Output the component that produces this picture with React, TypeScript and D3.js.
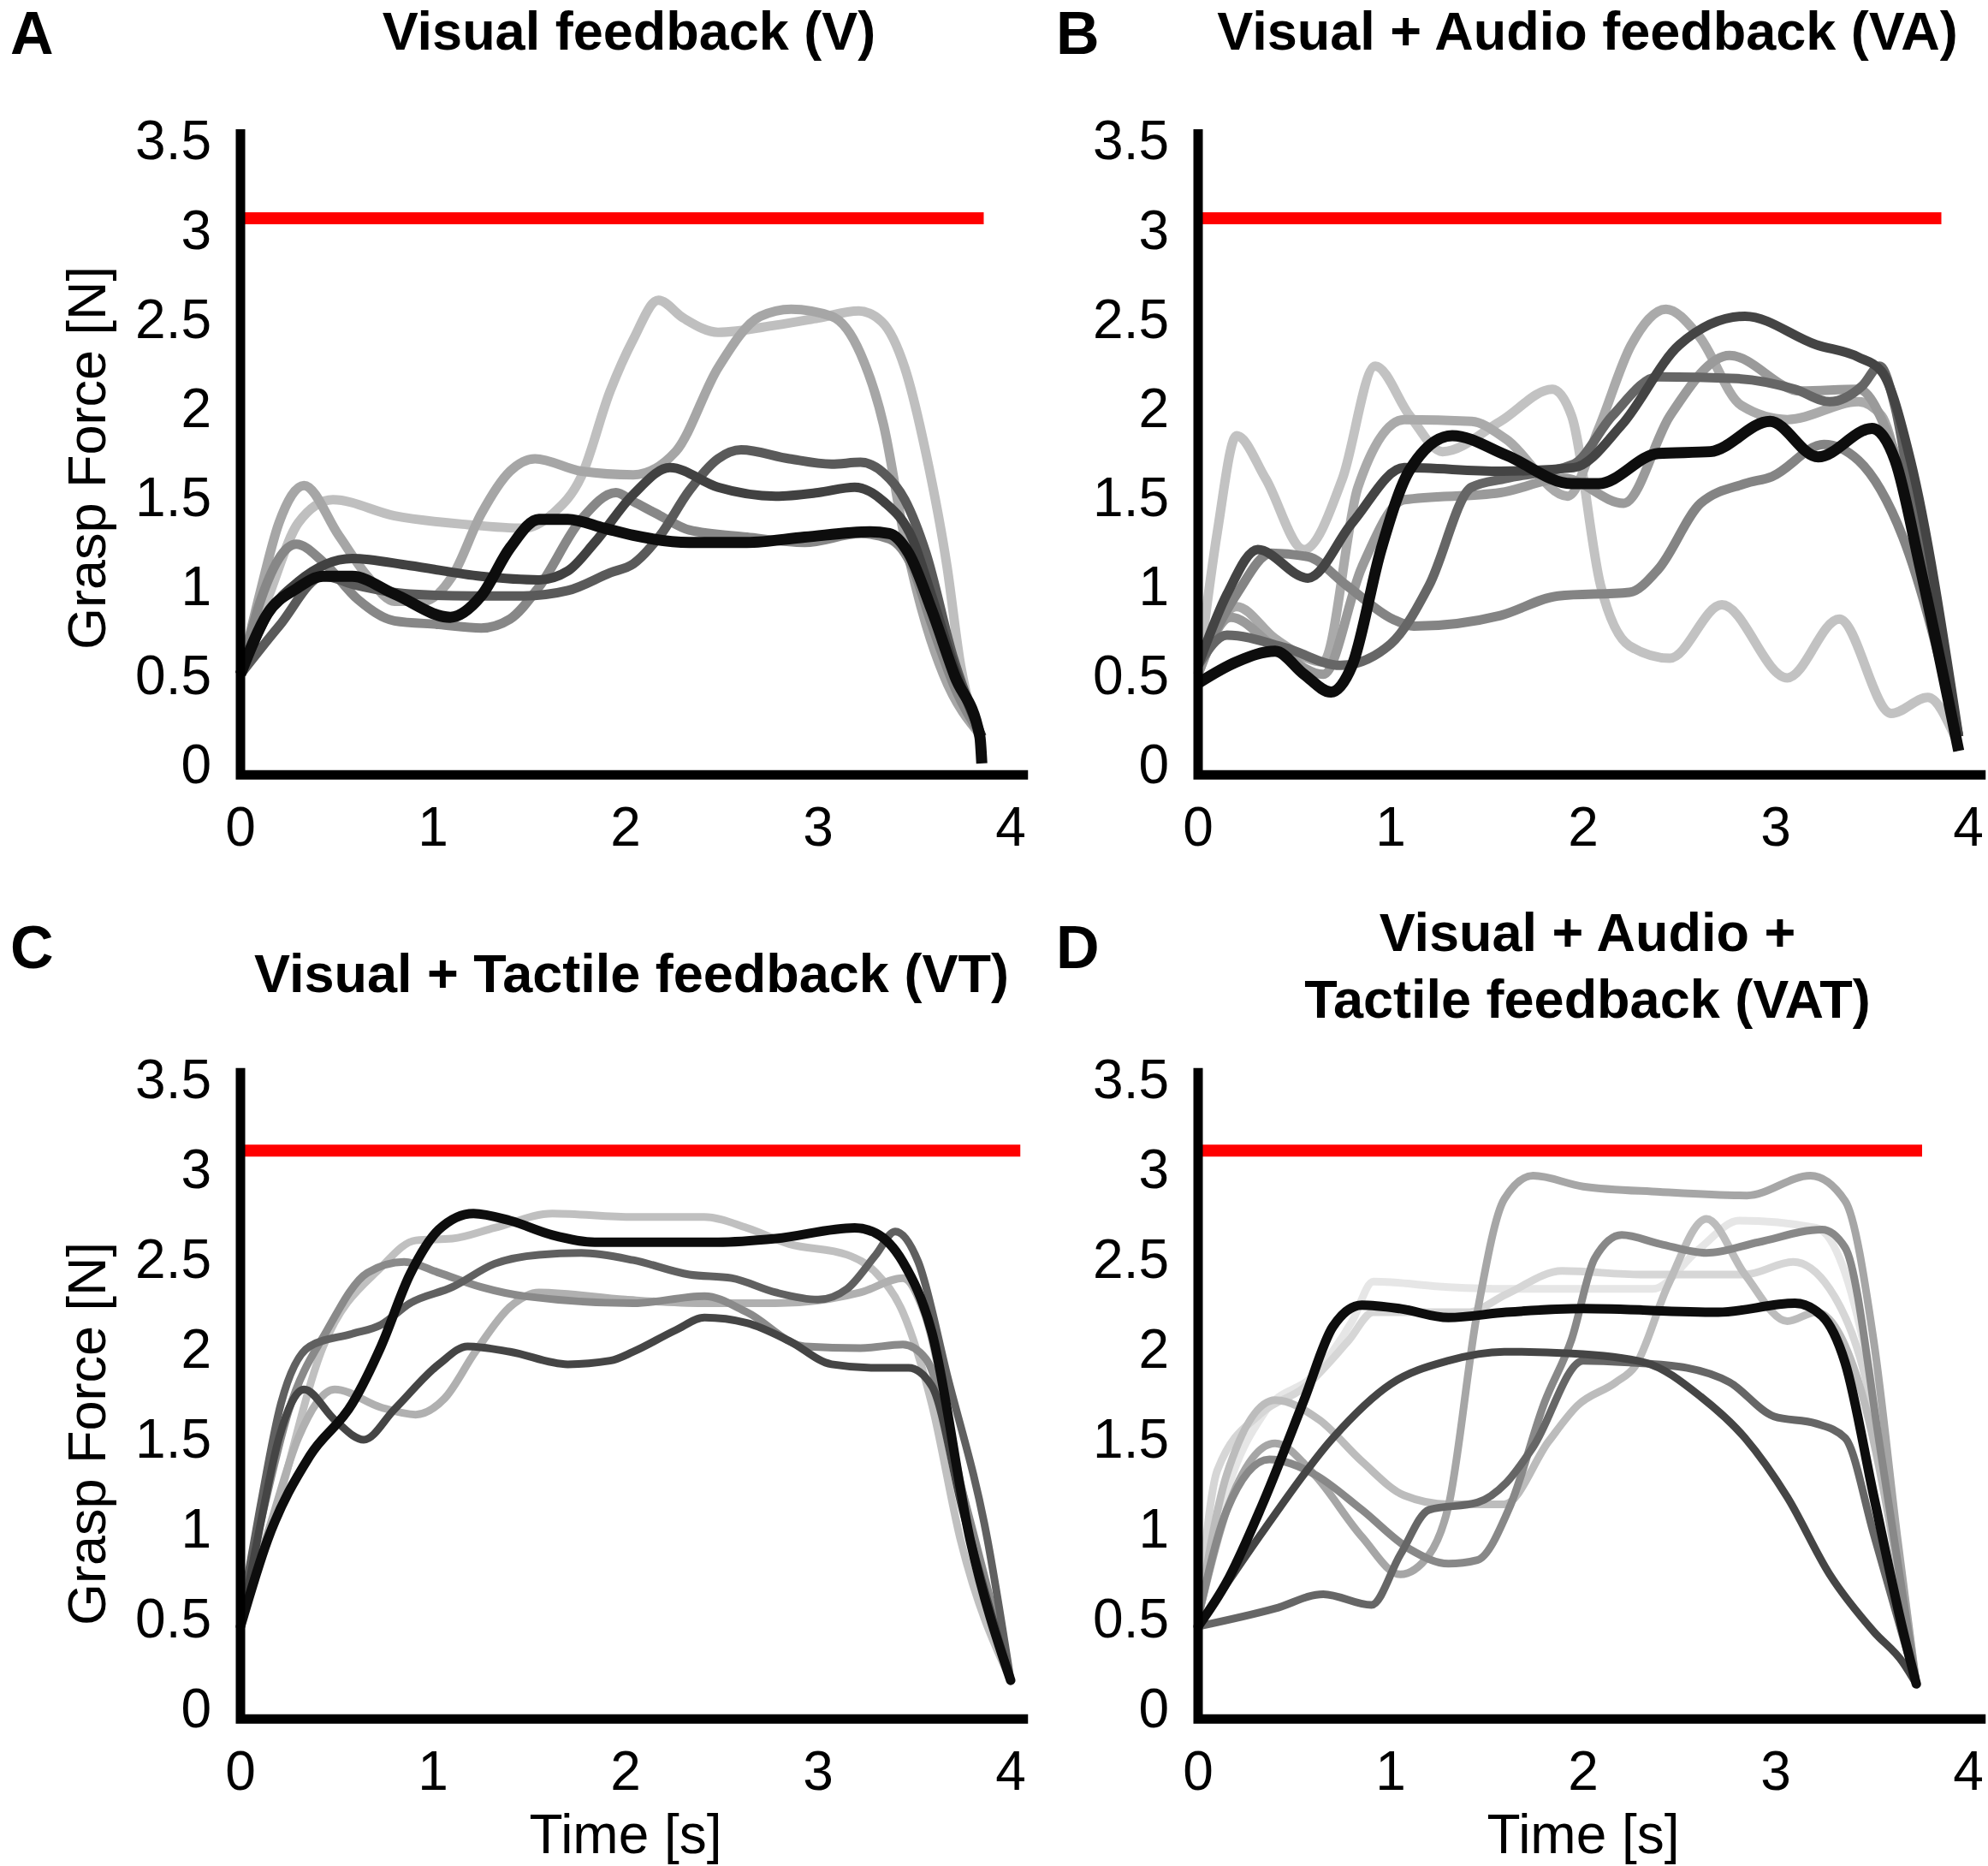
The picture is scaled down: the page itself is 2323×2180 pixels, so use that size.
import React from 'react';
import * as d3 from 'd3';

type Pt = [number, number];

// ---- chart data (time [s], grasp force [N]) ----
const xTicks = [0, 1, 2, 3, 4];
const yTicks = [0, 0.5, 1, 1.5, 2, 2.5, 3, 3.5];
const yTickLabels = ['0', '0.5', '1', '1.5', '2', '2.5', '3', '3.5'];

const panelLetters = ['A', 'B', 'C', 'D'];
const panelTitles = [
  ['Visual feedback (V)'],
  ['Visual + Audio feedback (VA)'],
  ['Visual + Tactile feedback (VT)'],
  ['Visual + Audio +', 'Tactile feedback (VAT)'],
];
const targetForce = [3.06, 3.06, 3.1, 3.1];
const targetEnd = [3.86, 3.86, 4.05, 3.76];

// Panel A - Visual
const shadesV = ['#bfbfbf', '#a6a6a6', '#878787', '#5a5a5a', '#414141', '#0d0d0d'];
const seriesV: Pt[][] = [
  [[0, 0.5], [0.15, 0.95], [0.3, 1.35], [0.48, 1.48], [0.8, 1.39], [1.18, 1.34], [1.47, 1.32], [1.62, 1.4], [1.77, 1.61], [1.92, 2.09], [2.04, 2.38], [2.17, 2.6], [2.3, 2.5], [2.48, 2.42], [2.78, 2.46], [3.0, 2.5], [3.21, 2.54], [3.33, 2.48], [3.45, 2.22], [3.56, 1.74], [3.67, 1.1], [3.74, 0.55], [3.85, 0.15]],
  [[0, 0.5], [0.1, 0.95], [0.2, 1.35], [0.33, 1.56], [0.51, 1.28], [0.66, 1.05], [0.8, 0.91], [0.95, 0.91], [1.1, 1.05], [1.25, 1.4], [1.4, 1.64], [1.53, 1.71], [1.77, 1.64], [2.04, 1.62], [2.26, 1.75], [2.48, 2.22], [2.7, 2.51], [2.86, 2.55], [3.07, 2.51], [3.22, 2.3], [3.34, 1.9], [3.45, 1.26], [3.56, 0.78], [3.65, 0.5], [3.85, 0.15]],
  [[0, 0.5], [0.1, 0.9], [0.29, 1.23], [0.43, 1.13], [0.61, 0.92], [0.8, 0.8], [1.03, 0.78], [1.25, 0.76], [1.4, 0.81], [1.55, 0.99], [1.77, 1.37], [1.95, 1.52], [2.04, 1.47], [2.18, 1.39], [2.33, 1.31], [2.63, 1.27], [2.93, 1.24], [3.22, 1.29], [3.37, 1.26], [3.49, 1.1], [3.59, 0.78], [3.72, 0.4], [3.85, 0.15]],
  [[0, 0.5], [0.2, 0.77], [0.43, 1.05], [0.6, 1.0], [0.88, 0.95], [1.2, 0.94], [1.47, 0.94], [1.7, 0.97], [1.92, 1.07], [2.04, 1.12], [2.18, 1.28], [2.33, 1.53], [2.48, 1.71], [2.6, 1.76], [2.85, 1.71], [3.07, 1.68], [3.22, 1.69], [3.34, 1.63], [3.45, 1.48], [3.56, 1.18], [3.7, 0.6], [3.85, 0.15]],
  [[0, 0.5], [0.15, 0.85], [0.3, 1.02], [0.58, 1.15], [0.88, 1.11], [1.25, 1.05], [1.55, 1.03], [1.7, 1.08], [1.84, 1.24], [2.04, 1.51], [2.23, 1.66], [2.48, 1.55], [2.78, 1.5], [3.0, 1.52], [3.19, 1.55], [3.34, 1.47], [3.49, 1.26], [3.59, 0.94], [3.72, 0.5], [3.85, 0.15]],
  [[0, 0.5], [0.14, 0.84], [0.29, 0.98], [0.43, 1.05], [0.58, 1.05], [0.8, 0.95], [1.09, 0.82], [1.25, 0.94], [1.4, 1.21], [1.55, 1.37], [1.7, 1.37], [1.89, 1.32], [2.04, 1.28], [2.33, 1.24], [2.63, 1.24], [2.93, 1.27], [3.27, 1.3], [3.37, 1.29], [3.47, 1.18], [3.59, 0.86], [3.71, 0.49], [3.84, 0.15], [3.85, 0]],
];

// Panel B - Visual + Audio
const shadesVA = ['#c2c2c2', '#aaaaaa', '#9a9a9a', '#848484', '#666666', '#444444', '#0d0d0d'];
const seriesVA: Pt[][] = [
  [[0, 0.5], [0.1, 1.3], [0.2, 1.84], [0.35, 1.6], [0.55, 1.2], [0.75, 1.6], [0.92, 2.23], [1.1, 1.95], [1.27, 1.75], [1.57, 1.92], [1.84, 2.1], [1.94, 1.95], [2.09, 1.0], [2.24, 0.66], [2.45, 0.59], [2.72, 0.89], [3.06, 0.48], [3.33, 0.81], [3.6, 0.28], [3.79, 0.37], [3.93, 0.15]],
  [[0, 0.5], [0.2, 0.88], [0.4, 0.7], [0.65, 0.57], [0.83, 1.55], [1.07, 1.93], [1.42, 1.92], [1.6, 1.82], [1.92, 1.5], [2.08, 1.88], [2.25, 2.35], [2.43, 2.55], [2.6, 2.4], [2.82, 2.01], [3.06, 1.93], [3.43, 2.03], [3.55, 1.95], [3.66, 1.55], [3.95, 0.15]],
  [[0, 0.5], [0.17, 0.82], [0.4, 0.65], [0.65, 0.5], [0.85, 1.1], [1.07, 1.48], [1.57, 1.52], [1.9, 1.6], [2.21, 1.46], [2.45, 1.95], [2.76, 2.29], [3.13, 2.09], [3.43, 2.1], [3.6, 1.8], [3.95, 0.15]],
  [[0, 0.55], [0.2, 0.95], [0.38, 1.18], [0.57, 1.16], [0.77, 1.0], [1.01, 0.81], [1.12, 0.77], [1.57, 0.83], [1.87, 0.94], [2.24, 0.96], [2.39, 1.09], [2.61, 1.46], [2.84, 1.57], [2.98, 1.61], [3.25, 1.79], [3.43, 1.7], [3.66, 1.27], [3.95, 0.15]],
  [[0, 0.55], [0.15, 0.72], [0.45, 0.65], [0.74, 0.55], [1.0, 0.67], [1.2, 1.0], [1.42, 1.55], [1.6, 1.6], [1.95, 1.68], [2.15, 1.95], [2.39, 2.17], [2.8, 2.16], [3.1, 2.1], [3.28, 2.03], [3.45, 2.12], [3.54, 2.23], [3.62, 2.0], [3.72, 1.4], [3.95, 0.15]],
  [[0, 0.55], [0.15, 0.95], [0.31, 1.2], [0.57, 1.04], [0.8, 1.35], [1.07, 1.66], [1.57, 1.64], [1.95, 1.66], [2.2, 1.9], [2.5, 2.35], [2.84, 2.51], [3.21, 2.35], [3.43, 2.28], [3.55, 2.2], [3.7, 1.7], [3.95, 0.15]],
  [[0, 0.45], [0.2, 0.57], [0.4, 0.63], [0.55, 0.5], [0.69, 0.4], [0.8, 0.55], [0.95, 1.2], [1.1, 1.65], [1.32, 1.84], [1.6, 1.73], [1.94, 1.57], [2.08, 1.57], [2.39, 1.74], [2.66, 1.75], [2.97, 1.92], [3.22, 1.72], [3.5, 1.88], [3.62, 1.7], [3.75, 1.1], [3.95, 0.07]],
];

// Panel C - Visual + Tactile
const shadesVT = ['#c0c0c0', '#b0b0b0', '#8a8a8a', '#606060', '#454545', '#0d0d0d'];
const seriesVT: Pt[][] = [
  [[0, 0.5], [0.14, 0.93], [0.43, 2.01], [0.73, 2.45], [0.91, 2.6], [1.1, 2.61], [1.32, 2.67], [1.62, 2.75], [2.04, 2.73], [2.41, 2.73], [2.63, 2.67], [2.85, 2.58], [3.15, 2.52], [3.3, 2.42], [3.44, 2.2], [3.59, 1.69], [3.74, 0.93], [4.0, 0.15]],
  [[0, 0.5], [0.15, 1.0], [0.3, 1.5], [0.49, 1.77], [0.73, 1.67], [0.91, 1.63], [1.06, 1.72], [1.22, 1.98], [1.4, 2.23], [1.55, 2.31], [2.0, 2.27], [2.4, 2.25], [2.78, 2.25], [3.22, 2.31], [3.44, 2.39], [3.55, 2.2], [3.75, 1.2], [4.0, 0.15]],
  [[0, 0.5], [0.12, 1.1], [0.25, 1.65], [0.45, 2.1], [0.66, 2.42], [0.85, 2.48], [1.03, 2.42], [1.25, 2.34], [1.47, 2.29], [2.04, 2.25], [2.41, 2.29], [2.63, 2.2], [2.93, 2.01], [3.22, 2.0], [3.44, 2.02], [3.56, 1.94], [3.75, 1.2], [4.0, 0.15]],
  [[0, 0.5], [0.1, 1.1], [0.21, 1.69], [0.36, 2.01], [0.58, 2.08], [0.73, 2.13], [0.88, 2.25], [1.1, 2.34], [1.32, 2.47], [1.55, 2.52], [1.77, 2.53], [2.04, 2.49], [2.33, 2.41], [2.55, 2.39], [2.78, 2.31], [3.0, 2.27], [3.15, 2.33], [3.3, 2.52], [3.4, 2.65], [3.52, 2.48], [3.67, 1.85], [3.88, 0.93], [4.0, 0.15]],
  [[0, 0.45], [0.1, 1.0], [0.2, 1.5], [0.33, 1.77], [0.49, 1.6], [0.64, 1.49], [0.8, 1.66], [1.03, 1.91], [1.18, 2.01], [1.4, 1.98], [1.7, 1.91], [1.92, 1.93], [2.04, 1.98], [2.26, 2.1], [2.41, 2.17], [2.63, 2.14], [2.85, 2.04], [3.07, 1.91], [3.3, 1.89], [3.47, 1.89], [3.59, 1.79], [3.75, 1.1], [4.0, 0.15]],
  [[0, 0.45], [0.14, 0.93], [0.36, 1.4], [0.58, 1.69], [0.73, 2.01], [0.88, 2.41], [1.03, 2.66], [1.21, 2.75], [1.4, 2.71], [1.62, 2.63], [1.84, 2.59], [2.48, 2.59], [2.78, 2.61], [3.19, 2.67], [3.3, 2.64], [3.44, 2.48], [3.59, 2.09], [3.79, 0.93], [4.0, 0.15]],
];

// Panel D - Visual + Audio + Tactile
const shadesVAT = ['#e6e6e6', '#d6d6d6', '#bcbcbc', '#a6a6a6', '#888888', '#666666', '#454545', '#0d0d0d'];
const seriesVAT: Pt[][] = [
  [[0, 0.5], [0.15, 1.2], [0.35, 1.65], [0.6, 1.85], [0.8, 2.15], [0.91, 2.37], [1.3, 2.34], [1.59, 2.33], [2.0, 2.33], [2.36, 2.33], [2.6, 2.55], [2.81, 2.71], [3.21, 2.67], [3.35, 2.45], [3.5, 1.8], [3.73, 0.13]],
  [[0, 0.5], [0.1, 1.32], [0.33, 1.64], [0.55, 1.78], [0.78, 2.04], [0.91, 2.2], [1.15, 2.2], [1.4, 2.2], [1.6, 2.3], [1.89, 2.43], [2.3, 2.41], [2.84, 2.41], [3.09, 2.48], [3.28, 2.33], [3.45, 1.9], [3.73, 0.13]],
  [[0, 0.5], [0.15, 1.3], [0.4, 1.71], [0.63, 1.6], [0.85, 1.37], [1.07, 1.18], [1.3, 1.13], [1.59, 1.13], [1.82, 1.48], [1.97, 1.68], [2.17, 1.81], [2.27, 1.9], [2.44, 2.35], [2.64, 2.72], [2.84, 2.41], [3.06, 2.15], [3.21, 2.2], [3.43, 1.81], [3.73, 0.13]],
  [[0, 0.5], [0.15, 1.1], [0.4, 1.47], [0.6, 1.3], [0.85, 0.95], [1.05, 0.74], [1.2, 0.85], [1.3, 1.12], [1.45, 2.2], [1.59, 2.83], [1.74, 2.96], [2.0, 2.9], [2.4, 2.87], [2.85, 2.85], [3.18, 2.96], [3.36, 2.82], [3.51, 2.03], [3.63, 0.96], [3.73, 0.13]],
  [[0, 0.5], [0.15, 1.1], [0.37, 1.38], [0.6, 1.3], [0.85, 1.1], [1.1, 0.88], [1.3, 0.8], [1.45, 0.82], [1.62, 1.12], [1.8, 1.7], [1.94, 2.05], [2.06, 2.5], [2.2, 2.63], [2.4, 2.58], [2.64, 2.53], [2.91, 2.59], [3.24, 2.66], [3.36, 2.56], [3.55, 1.39], [3.73, 0.13]],
  [[0, 0.45], [0.4, 0.55], [0.65, 0.63], [0.9, 0.57], [1.05, 0.85], [1.2, 1.1], [1.45, 1.14], [1.6, 1.25], [1.74, 1.45], [2.0, 1.93], [2.24, 1.92], [2.54, 1.89], [2.76, 1.81], [2.99, 1.62], [3.21, 1.58], [3.36, 1.5], [3.51, 0.96], [3.73, 0.13]],
  [[0, 0.45], [0.35, 1.0], [0.7, 1.5], [1.0, 1.8], [1.3, 1.93], [1.59, 1.98], [1.94, 1.97], [2.32, 1.92], [2.61, 1.73], [2.84, 1.5], [3.06, 1.17], [3.28, 0.74], [3.51, 0.42], [3.66, 0.25], [3.73, 0.13]],
  [[0, 0.45], [0.15, 0.7], [0.33, 1.12], [0.55, 1.71], [0.7, 2.12], [0.85, 2.24], [1.05, 2.22], [1.3, 2.17], [1.6, 2.2], [2.0, 2.22], [2.7, 2.2], [3.1, 2.25], [3.24, 2.18], [3.36, 1.92], [3.51, 1.17], [3.66, 0.43], [3.73, 0.13]],
];

const allSeries = [seriesV, seriesVA, seriesVT, seriesVAT];
const allShades = [shadesV, shadesVA, shadesVT, shadesVAT];

// ---- layout ----
const W = 2323;
const H = 2180;
const FONT = '"Liberation Sans", Arial, Helvetica, sans-serif';
const originX = [281, 1400, 281, 1400];
const originY = [891.8, 891.8, 1994.6, 1994.6];
const pxPerN = [208.1, 208.1, 209.8, 209.8];
const pxPerS = 225;
const xLim: [number, number] = [0, 4.09];
const yLim: [number, number] = [-0.065, 3.56];
const titleCenter = [735, 1855, 738, 1855];
const titleBaseline = [[58], [58], [1159], [1111, 1189]];
const letterPos = [[12, 63], [1234, 63], [12, 1131], [1234, 1131]];

const Panel: React.FC<{ i: number }> = ({ i }) => {
  const x = d3.scaleLinear().domain([0, 4]).range([originX[i], originX[i] + 4 * pxPerS]);
  const y = d3.scaleLinear().domain([0, 3.5]).range([originY[i], originY[i] - 3.5 * pxPerN[i]]);
  const line = d3.line<Pt>().x(d => x(d[0])).y(d => y(d[1])).curve(d3.curveMonotoneX);
  const thick = i < 2;
  const series = allSeries[i];
  const shades = allShades[i];
  const axisY = y(yLim[0]);
  return (
    <g>
      {series.map((s, k) => {
        const isBlack = k === series.length - 1;
        return (
          <path
            key={k}
            d={line(s) || ''}
            fill="none"
            stroke={shades[k]}
            strokeWidth={thick ? (isBlack ? 13 : 11) : (isBlack ? 11 : 9)}
            strokeLinecap={thick ? 'butt' : 'round'}
            strokeLinejoin="round"
          />
        );
      })}
      <line
        x1={x(0)}
        x2={x(targetEnd[i])}
        y1={y(targetForce[i])}
        y2={y(targetForce[i])}
        stroke="#ff0000"
        strokeWidth={14}
      />
      <path
        d={`M${x(0)},${y(yLim[1])}V${axisY}H${x(xLim[1])}`}
        fill="none"
        stroke="#000"
        strokeWidth={11}
        strokeLinejoin="miter"
      />
      {yTicks.map((t, k) => (
        <text key={k} x={x(0) - 34} y={y(t) + 23} textAnchor="end" fontSize={64} fontFamily={FONT}>
          {yTickLabels[k]}
        </text>
      ))}
      {xTicks.map(t => (
        <text key={t} x={x(t)} y={axisY + 60 + 23} textAnchor="middle" fontSize={64} fontFamily={FONT}>
          {t}
        </text>
      ))}
      {panelTitles[i].map((txt, k) => (
        <text
          key={k}
          x={titleCenter[i]}
          y={titleBaseline[i][k]}
          textAnchor="middle"
          fontSize={63}
          fontWeight={700}
          fontFamily={FONT}
        >
          {txt}
        </text>
      ))}
      <text x={letterPos[i][0]} y={letterPos[i][1]} fontSize={70} fontWeight={700} fontFamily={FONT}>
        {panelLetters[i]}
      </text>
      {i % 2 === 0 && (
        <text
          transform={`translate(123,${i === 0 ? 535 : 1675}) rotate(-90)`}
          textAnchor="middle"
          fontSize={63}
          fontFamily={FONT}
        >
          Grasp Force [N]
        </text>
      )}
      {i >= 2 && (
        <text x={x(2)} y={2165} textAnchor="middle" fontSize={64} fontFamily={FONT}>
          Time [s]
        </text>
      )}
    </g>
  );
};

export default function App() {
  return (
    <div style={{ position: 'absolute', left: 0, top: 0, width: W, height: H, background: '#fff' }}>
      <svg width={W} height={H} viewBox={`0 0 ${W} ${H}`}>
        <rect width={W} height={H} fill="#fff" />
        {[0, 1, 2, 3].map(i => (
          <Panel key={i} i={i} />
        ))}
      </svg>
    </div>
  );
}
